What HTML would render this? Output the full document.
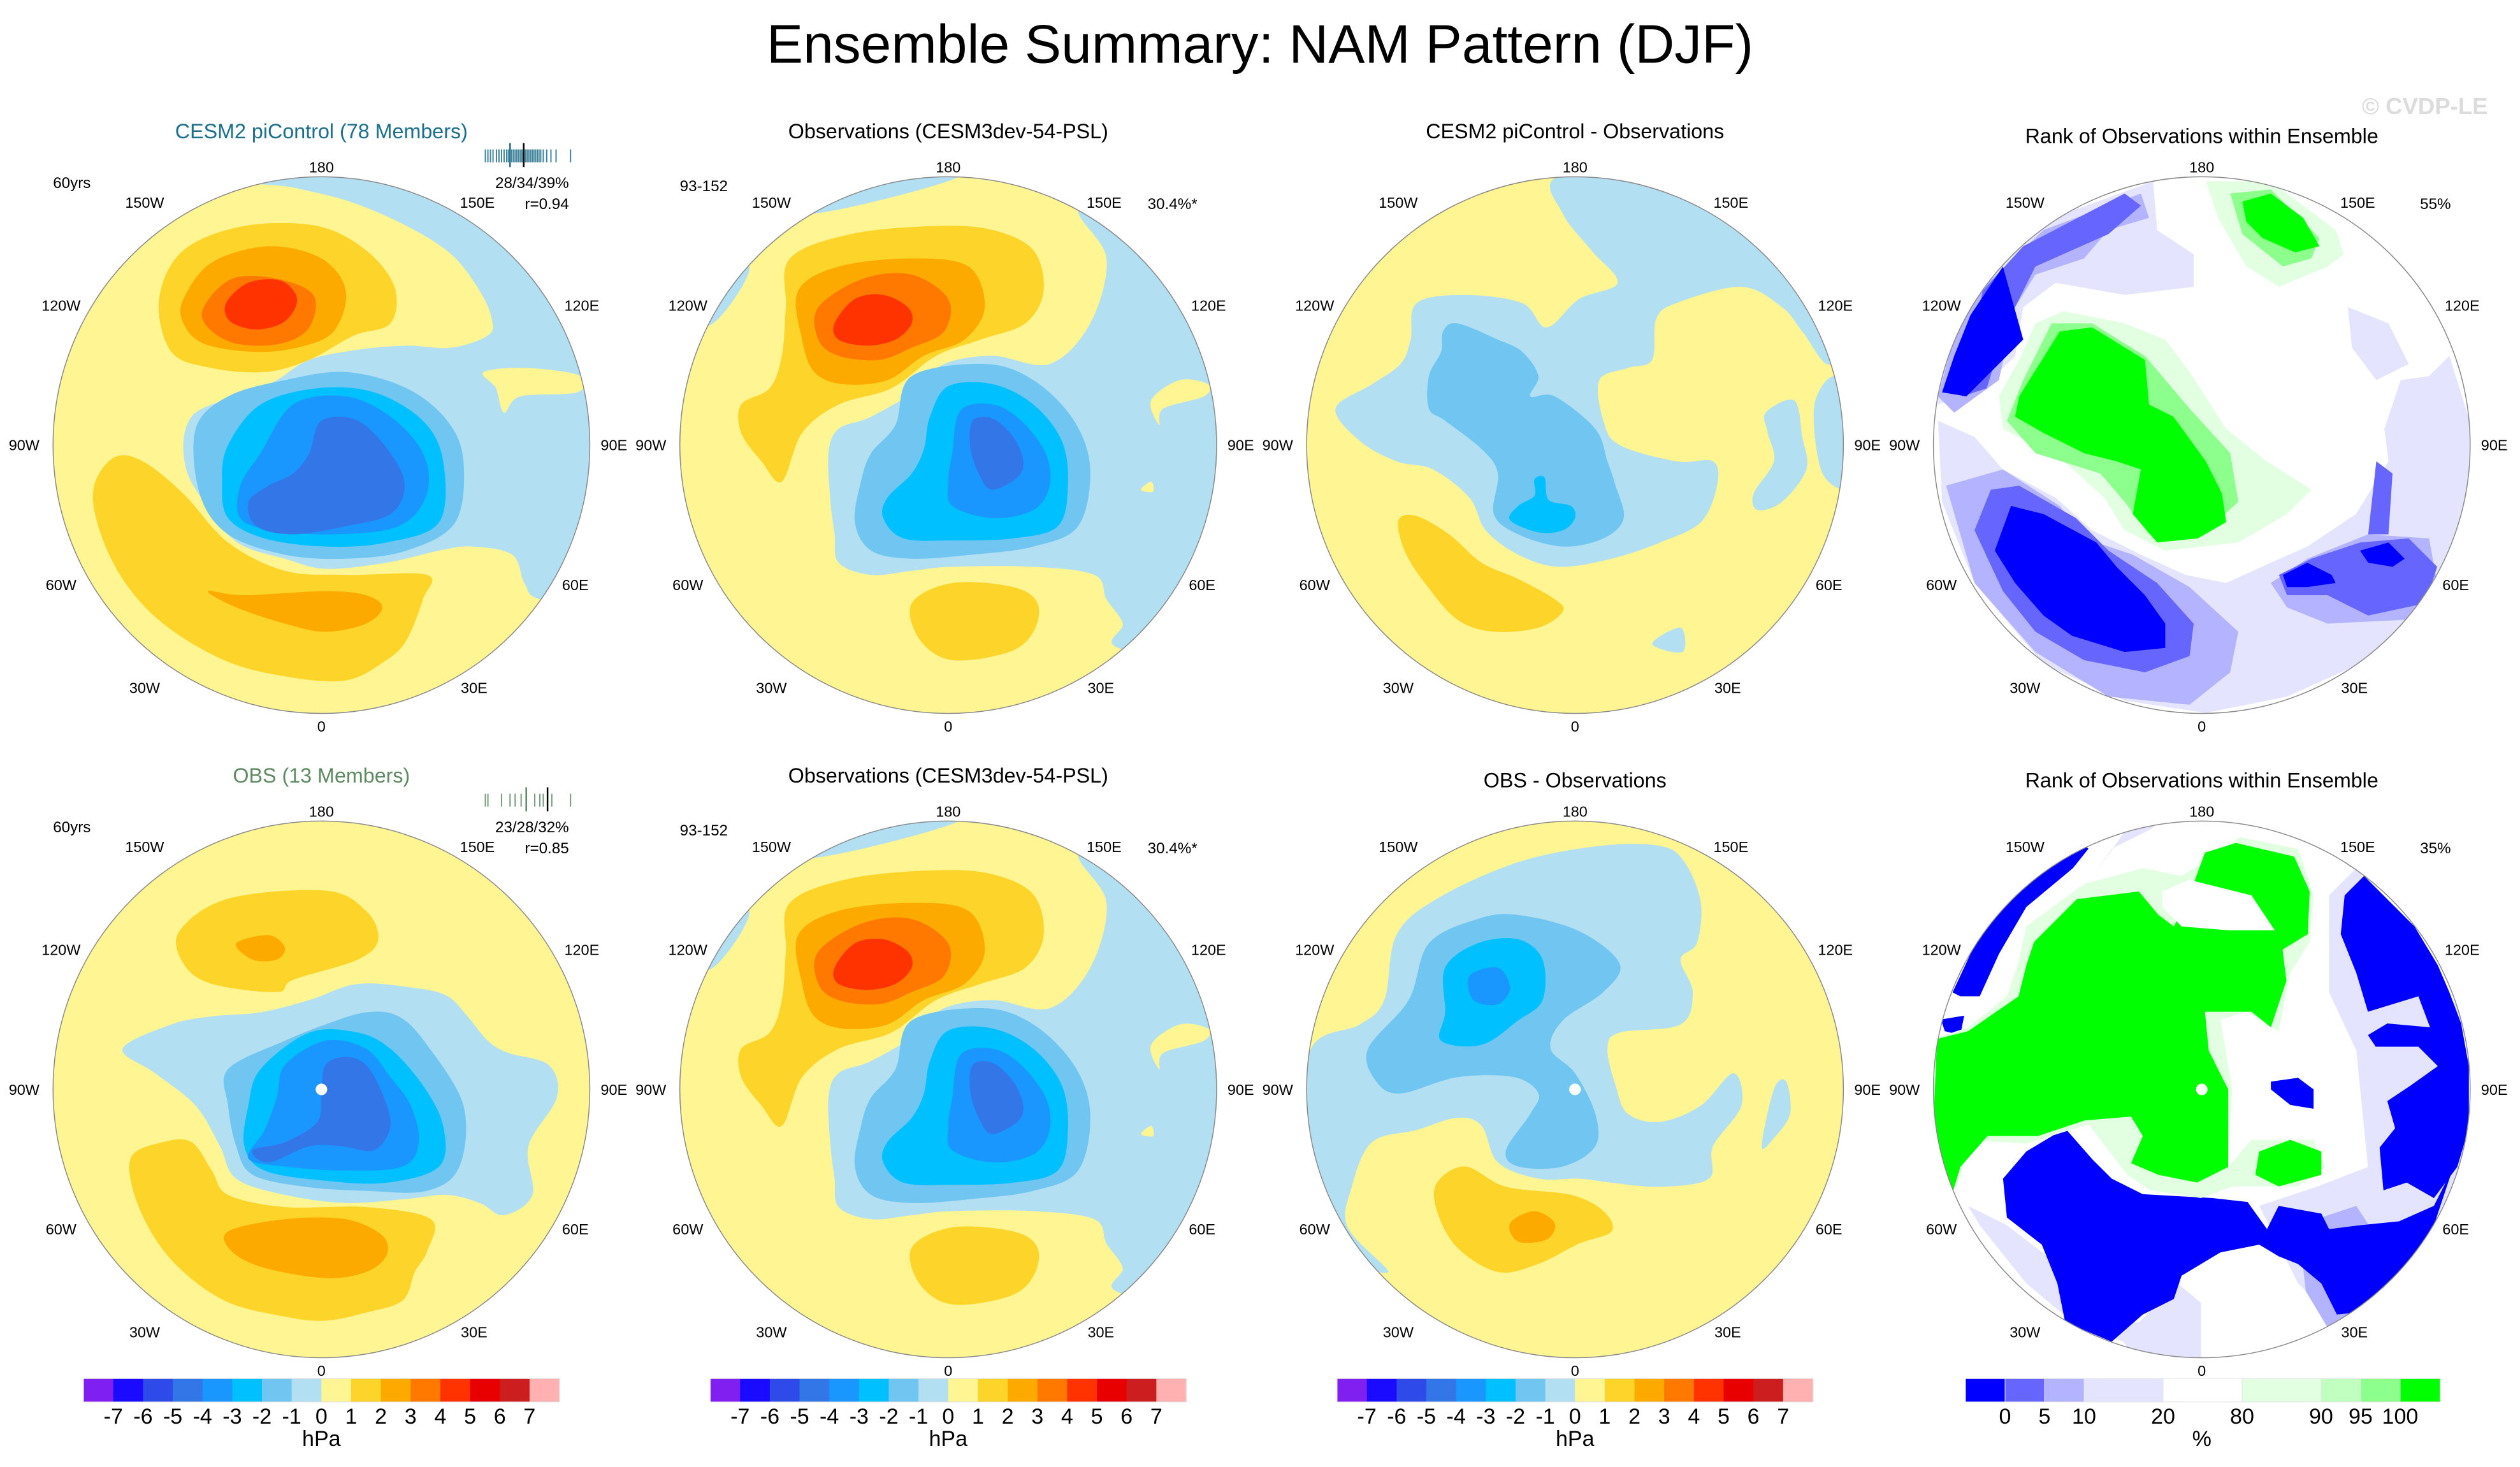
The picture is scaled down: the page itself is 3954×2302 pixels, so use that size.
<!DOCTYPE html>
<html><head><meta charset="utf-8"><style>
html,body{margin:0;padding:0;background:#fff;}
svg{display:block;font-family:"Liberation Sans",Arial,sans-serif;}
</style></head><body>
<svg id="fig" width="3954" height="2302" viewBox="0 0 1568 913" preserveAspectRatio="none" xmlns="http://www.w3.org/2000/svg">
<rect width="1568" height="913" fill="#fff"/>
<text x="784" y="39" font-size="34" text-anchor="middle" fill="#000">Ensemble Summary: NAM Pattern (DJF)</text>
<text x="1548" y="71" font-size="14.5" font-weight="bold" text-anchor="end" fill="#dcdcdc">© CVDP-LE</text>
<g id="panels"></g>
</svg>
<script>
// ---- colour scales ----
const hpaColors = ['#8020f0','#1a0bff','#2e4ae8','#3276e8','#1a96ff','#00c0ff','#70c6f0','#b3dff3','#fff592','#fdd42a','#fdaa00','#ff7800','#ff3300','#e80000','#cc1e1e','#ffb0b0'];
const hpaTicks = ['-7','-6','-5','-4','-3','-2','-1','0','1','2','3','4','5','6','7'];
const rankColors = ['#0000ff','#6666ff','#b3b3ff','#e4e4ff','#ffffff','#e2ffe2','#c0ffc0','#8cff8c','#00ff00'];
const rankWidths = [1,1,1,2,2,2,1,1,1];
const rankTicks = ['0','5','10','20','80','90','95','100'];
const lonLabels = ['180','150E','120E','90E','60E','30E','0','30W','60W','90W','120W','150W'];

// ---- contour regions (level index into colour scale, outline points in source-pixel units) ----
const p1Shapes = [
 [7,[[650,210],[1500,200],[1500,1250],[1330,1240],[1290,1200],[1260,1130],[1160,1110],[1080,1120],[950,1150],[800,1165],[700,1140],[600,1110],[540,1060],[500,1000],[460,930],[450,850],[470,790],[520,760],[600,740],[680,700],[760,650],[880,625],[1000,615],[1110,620],[1200,590],[1210,550],[1180,480],[1110,390],[1000,320],[860,260],[720,225]]],
 [8,[[1190,680],[1300,670],[1430,690],[1420,730],[1280,740],[1240,780],[1220,720]]],
 [6,[[480,820],[560,740],[700,700],[850,680],[1000,720],[1100,800],[1140,900],[1120,1050],[1000,1120],[850,1140],[700,1130],[560,1080],[490,980]]],
 [5,[[560,860],[640,760],[780,720],[920,730],[1040,800],[1090,900],[1080,1050],[950,1100],[800,1110],[650,1090],[560,1040],[545,950]]],
 [4,[[590,960],[640,880],[720,760],[850,740],[960,790],[1040,880],[1050,980],[980,1060],[820,1080],[670,1070],[590,1040]]],
 [3,[[610,1000],[660,960],[720,930],[760,880],[790,800],[880,800],[960,880],[995,960],[960,1030],[850,1060],[720,1080],[630,1060]]],
 [9,[[230,960],[280,890],[350,900],[450,980],[560,1100],[700,1170],[850,1180],[1050,1180],[1040,1240],[1000,1340],[950,1390],[850,1440],[700,1430],[550,1390],[400,1300],[300,1190],[240,1060]]],
 [10,[[510,1220],[600,1230],[800,1220],[900,1230],[940,1260],[900,1300],[800,1320],[700,1300],[580,1260]]],
 [9,[[390,500],[450,380],[600,320],[780,320],[900,380],[970,470],[960,560],[870,590],[760,650],[650,680],[520,670],[420,630]]],
 [10,[[450,500],[520,410],[660,370],[790,400],[850,480],[820,580],[730,620],[620,630],[500,610],[450,560]]],
 [11,[[500,520],[570,450],[680,450],[770,490],[760,570],[690,610],[580,610],[510,570]]],
 [12,[[555,510],[610,460],[690,455],[730,500],[700,555],[630,575],[565,555]]]
];
const p2Shapes = [
 [7,[[450,290],[820,195],[460,200]]],
 [7,[[200,565],[300,420],[150,430]]],
 [7,[[1110,280],[1180,400],[1140,560],[1040,660],[900,640],[780,660],[720,720],[600,790],[520,820],[495,880],[500,1000],[510,1080],[520,1150],[600,1180],[700,1170],[800,1160],[1000,1160],[1150,1180],[1180,1240],[1220,1300],[1210,1360],[1500,1400],[1500,200],[1200,230]]],
 [8,[[1290,750],[1360,700],[1430,710],[1420,740],[1320,770],[1310,810]]],
 [8,[[1265,970],[1290,950],[1295,975]]],
 [6,[[700,690],[880,660],[1000,700],[1100,800],[1140,920],[1110,1060],[1000,1110],[850,1130],[700,1140],[600,1120],[560,1050],[575,950],[600,880],[660,810]]],
 [5,[[790,715],[900,710],[1000,760],[1070,850],[1085,960],[1060,1060],[950,1090],[800,1095],[680,1090],[630,1040],[640,990],[700,930],[730,870],[745,790]]],
 [4,[[820,775],[900,760],[970,800],[1030,880],[1040,960],[1000,1020],[900,1040],[800,1010],[790,950],[800,880]]],
 [3,[[850,800],[900,795],[950,840],[975,900],[960,940],[900,970],[870,940],[845,870]]],
 [9,[[400,400],[550,340],[760,320],[900,330],[1000,380],[1025,480],[980,560],[870,600],[760,640],[650,720],[520,760],[430,830],[380,950],[330,900],[280,830],[280,760],[350,720],[380,640],[390,520]]],
 [10,[[420,480],[520,420],[700,400],[840,420],[880,520],[830,600],[730,640],[640,700],[530,710],[460,680],[430,600]]],
 [11,[[470,520],[580,450],[700,440],[790,500],[780,580],[700,620],[620,650],[520,640],[470,600]]],
 [12,[[510,560],[560,500],[630,490],[690,520],[700,560],[660,600],[590,615],[520,600]]],
 [9,[[700,1250],[800,1200],[950,1210],[1010,1250],[1000,1320],[940,1370],[800,1390],[720,1340]]]
];
const p3Shapes = [
 [7,[[745,200],[760,290],[830,380],[895,460],[800,500],[720,570],[660,510],[520,490],[400,510],[385,600],[360,660],[290,710],[200,770],[260,850],[350,900],[440,920],[530,990],[570,1070],[650,1130],[750,1160],[880,1140],[1000,1100],[1100,1050],[1140,960],[1130,900],[1040,900],[900,860],[860,800],[850,700],[920,670],[980,650],[990,550],[1040,510],[1200,470],[1300,520],[1350,580],[1420,660],[1460,500],[1300,250],[1000,190]]],
 [7,[[1260,780],[1330,750],[1350,840],[1360,920],[1300,1000],[1240,1020],[1230,980],[1280,900],[1265,830]]],
 [7,[[1380,760],[1440,700],[1470,950],[1400,930]]],
 [7,[[980,1350],[1050,1310],[1055,1370]]],
 [6,[[465,580],[500,560],[600,600],[660,630],[700,690],[680,740],[740,740],[840,820],[870,900],[890,960],[910,1040],[860,1090],[760,1110],[650,1080],[590,1030],[600,930],[560,870],[470,800],[430,770],[430,690],[460,630]]],
 [5,[[690,945],[715,940],[725,995],[780,1010],[790,1040],[760,1070],[700,1075],[630,1045],[650,1010],[690,985]]],
 [9,[[355,1045],[400,1035],[480,1080],[560,1150],[650,1190],[740,1240],[760,1270],[700,1310],[590,1320],[500,1290],[420,1200],[370,1120]]]
];
const p5Shapes = [
 [7,[[300,760],[420,700],[520,680],[640,670],[760,640],[880,600],[1020,610],[1100,630],[1150,680],[1200,740],[1250,770],[1350,800],[1370,880],[1300,1000],[1310,1120],[1240,1170],[1180,1140],[1100,1120],[1000,1130],[850,1140],[700,1120],[580,1080],[540,1000],[480,900],[380,820]]],
 [6,[[560,810],[700,740],[800,700],[900,670],[980,680],[1050,750],[1140,900],[1130,1050],[1050,1110],[900,1110],[750,1100],[620,1070],[580,1000],[560,900]]],
 [5,[[640,810],[760,720],[880,720],[960,760],[1040,850],[1090,950],[1080,1050],[950,1090],[800,1085],[650,1060],[600,1000],[610,900]]],
 [4,[[700,800],[800,740],[900,760],[960,830],[1010,900],[1030,990],[990,1050],[850,1060],[700,1050],[610,1030],[650,960],[680,880]]],
 [3,[[800,800],[850,780],[900,800],[940,870],[960,950],[920,1010],[840,1000],[760,1000],[660,1040],[620,1010],[700,990],[780,940],[790,870]]],
 [9,[[440,470],[560,390],[800,370],[900,420],[930,490],[880,540],[720,590],[680,620],[520,600],[450,550]]],
 [10,[[580,500],[660,480],[700,510],[680,540],[620,540]]],
 [9,[[320,1030],[400,990],[470,990],[520,1060],[560,1120],[700,1150],[900,1150],[1060,1180],[1050,1260],[1020,1310],[990,1380],[900,1410],[800,1430],[700,1420],[550,1380],[420,1280],[340,1150]]],
 [10,[[560,1210],[700,1180],[850,1180],[940,1220],[950,1270],[900,1310],[800,1325],[650,1300],[570,1260]]]
];
const p7Shapes = [
 [7,[[140,760],[260,700],[320,640],[350,480],[450,390],[650,300],[850,260],[1000,260],[1060,300],[1100,400],[1090,500],[1050,540],[1080,620],[1050,700],[900,720],[870,760],[890,850],[920,920],[1000,940],[1100,900],[1180,820],[1200,900],[1130,1000],[1120,1080],[1000,1100],[880,1090],[800,1080],[700,1080],[600,1040],[560,950],[500,930],[400,960],[290,990],[240,1100],[230,1200],[330,1310],[200,1250],[130,1000]]],
 [7,[[1280,860],[1310,840],[1320,920],[1280,980],[1250,1000]]],
 [6,[[280,760],[380,640],[430,500],[550,440],[650,430],[800,470],[900,550],[860,620],[760,690],[730,760],[790,820],[840,920],[840,1000],[760,1050],[650,1050],[620,1010],[680,920],[700,870],[640,830],[500,830],[360,870],[300,840]]],
 [5,[[470,560],[550,500],[650,490],[710,540],[710,640],[650,690],[560,750],[460,740],[470,670]]],
 [4,[[530,580],[600,560],[630,610],[600,650],[540,640]]],
 [9,[[450,1090],[520,1050],[620,1100],[780,1120],[860,1160],[880,1210],[800,1240],[700,1290],[600,1310],[500,1250],[450,1160]]],
 [10,[[630,1190],[690,1160],[740,1190],[720,1230],[650,1235]]]
];
const p4Shapes = [
 [3,[[450,290],[670,210],[680,330],[770,390],[770,470],[600,490],[430,460],[350,520],[330,640],[250,720],[140,760],[140,500],[250,350]]],
 [3,[[140,800],[230,840],[300,920],[430,990],[520,1070],[640,1130],[750,1180],[850,1200],[960,1150],[1050,1110],[1170,1030],[1250,900],[1240,820],[1280,700],[1350,690],[1400,640],[1450,800],[1450,1100],[1350,1300],[1200,1390],[1000,1480],[800,1520],[600,1490],[400,1400],[230,1200],[150,1000]]],
 [3,[[1150,520],[1250,560],[1300,660],[1220,700],[1160,620]]],
 [2,[[400,330],[640,240],[660,300],[560,330],[500,400],[380,440],[330,520],[290,700],[180,780],[140,740],[200,520]]],
 [2,[[160,960],[300,920],[440,1010],[500,1090],[620,1130],[760,1210],[880,1320],[860,1420],[760,1500],[560,1480],[380,1370],[230,1200]]],
 [2,[[960,1200],[1050,1140],[1200,1080],[1350,1090],[1370,1200],[1300,1290],[1100,1300],[1000,1260]]],
 [1,[[350,370],[600,240],[640,270],[560,340],[380,420],[310,560],[260,720],[200,740],[250,480]]],
 [1,[[230,1070],[270,970],[340,960],[480,1040],[560,1120],[680,1200],[770,1300],[760,1380],[650,1420],[500,1390],[380,1320],[300,1220]]],
 [1,[[980,1180],[1060,1140],[1180,1100],[1300,1090],[1370,1160],[1340,1250],[1200,1280],[1100,1230],[1000,1230]]],
 [1,[[1220,900],[1260,930],[1250,1080],[1200,1080]]],
 [0,[[150,730],[180,640],[220,540],[300,420],[350,600],[250,700],[210,740]]],
 [0,[[280,1120],[320,1010],[400,1030],[530,1100],[580,1160],[650,1230],[700,1300],[700,1360],[600,1370],[470,1330],[400,1280],[330,1200]]],
 [0,[[990,1180],[1050,1150],[1110,1180],[1120,1200],[1050,1210],[1000,1210]]],
 [0,[[1180,1120],[1250,1100],[1290,1140],[1260,1160],[1200,1150]]],
 [5,[[380,560],[450,530],[600,560],[700,600],[760,680],[850,820],[950,900],[1060,970],[1000,1030],[880,1100],[700,1120],[600,1070],[550,990],[450,900],[300,820],[290,740],[340,650]]],
 [5,[[800,210],[960,210],[1120,330],[1140,390],[1100,420],[980,470],[900,420],[830,300]]],
 [7,[[420,560],[520,560],[650,640],[760,770],[860,880],[880,1000],[780,1090],[660,1080],[600,1000],[540,930],[380,880],[310,800],[350,700]]],
 [7,[[860,240],[960,230],[1080,350],[1060,400],[990,420],[890,340]]],
 [8,[[440,580],[520,570],[650,650],[660,760],[720,790],[800,900],[840,980],[850,1050],[780,1090],[680,1100],[620,1030],[640,920],[580,900],[500,880],[400,830],[330,790],[340,740],[390,660]]],
 [8,[[890,260],[960,240],[1040,300],[1080,370],[1020,385],[940,350],[900,310]]]
];
const p8Shapes = [
 [3,[[600,70],[690,70],[620,130],[520,180],[480,240]]],
 [3,[[150,1100],[250,1150],[380,1250],[400,1400],[550,1450],[600,1530],[750,1540],[750,1350],[690,1300],[590,1400],[420,1400],[300,1300],[180,1150]]],
 [3,[[1080,300],[1150,230],[1420,600],[1440,1000],[1300,1350],[1100,1400],[1000,1300],[900,1100],[1050,1050],[1180,1000],[1150,700],[1080,550]]],
 [2,[[1000,1150],[1150,1100],[1280,1300],[1080,1420],[1020,1320]]],
 [0,[[110,550],[180,400],[300,250],[430,150],[460,180],[420,230],[300,330],[230,450],[180,560],[130,560]]],
 [0,[[80,620],[140,610],[130,660],[90,650]]],
 [0,[[240,1030],[300,960],[400,900],[470,980],[520,1030],[600,1070],[780,1080],[870,1090],[920,1160],[950,1100],[1060,1120],[1080,1160],[1160,1150],[1260,1140],[1350,1100],[1400,1000],[1300,1300],[1200,1370],[1100,1380],[1060,1300],[1000,1250],[950,1230],[900,1200],[800,1220],[700,1280],[680,1340],[600,1380],[520,1450],[400,1400],[380,1300],[340,1200],[250,1130]]],
 [0,[[1120,300],[1170,250],[1300,380],[1360,480],[1390,550],[1420,630],[1440,740],[1440,900],[1410,1000],[1350,1080],[1280,1040],[1220,1060],[1210,950],[1250,900],[1230,830],[1290,790],[1360,740],[1310,690],[1200,690],[1180,660],[1230,630],[1340,640],[1310,560],[1180,600],[1150,500],[1110,400]]],
 [0,[[930,780],[1000,770],[1040,800],[1040,850],[980,840],[930,800]]],
 [5,[[300,380],[450,270],[600,230],[700,250],[780,200],[850,150],[1000,180],[1040,300],[1030,420],[980,500],[950,650],[870,600],[800,620],[830,800],[820,1000],[880,930],[1040,930],[1070,1000],[1000,1050],[830,1050],[750,1080],[620,1060],[560,1020],[460,890],[300,940],[160,930],[120,1050],[60,900],[60,670],[150,640],[250,560],[280,470]]],
 [8,[[320,420],[430,310],[590,290],[640,350],[680,380],[720,300],[760,190],[840,165],[990,200],[1030,290],[1025,400],[960,440],[970,520],[930,640],[880,600],[810,600],[760,600],[770,700],[820,800],[820,1000],[740,1040],[640,1020],[570,990],[600,920],[570,870],[450,880],[330,920],[200,920],[130,1000],[100,1100],[60,900],[70,670],[150,650],[280,560],[300,480]]],
 [4,[[650,290],[720,260],[880,300],[940,390],[820,390],[700,380],[650,330]]],
 [8,[[900,960],[980,930],[1060,960],[1060,1020],[950,1050],[890,1020]]]
];

// ---- ensemble barcodes (member positions, 0..1) ----
const bar1Members = [0.0,0.03,0.06,0.09,0.13,0.16,0.19,0.22,0.25,0.27,0.29,0.31,0.33,0.35,0.37,0.39,0.41,0.43,0.45,0.47,0.49,0.51,0.53,0.55,0.57,0.59,0.61,0.63,0.65,0.68,0.72,0.77,0.83,1.0];
const bar1Marks = [0.29,0.45];
const bar5Members = [0.0,0.03,0.19,0.29,0.35,0.42,0.48,0.58,0.64,0.68,0.78,1.0];
const bar5Marks = [0.48,0.73];

const panels = [
 {id:'p1',cx:200,cy:277,src:[790,860,3.96],shapes:p1Shapes,cols:hpaColors,bg:8,title:'CESM2 piControl (78 Members)',tc:'#1a6f8f',ty:86,left:'60yrs',ly:117,bar:[bar1Members,bar1Marks,'#1f6f8b'],stats:['28/34/39%','r=0.94']},
 {id:'p2',cx:590,cy:277,src:[790,860,3.96],shapes:p2Shapes,cols:hpaColors,bg:8,title:'Observations (CESM3dev-54-PSL)',tc:'#000',ty:86,left:'93-152',ly:119,right:'30.4%*'},
 {id:'p3',cx:980,cy:277,src:[790,860,3.96],shapes:p3Shapes,cols:hpaColors,bg:8,title:'CESM2 piControl - Observations',tc:'#000',ty:86},
 {id:'p4',cx:1370,cy:277,src:[790,860,3.96],shapes:p4Shapes,cols:rankColors,bg:4,title:'Rank of Observations within Ensemble',tc:'#000',ty:89,right:'55%',rank:true},
 {id:'p5',cx:200,cy:678,src:[790,860,3.96],shapes:p5Shapes,cols:hpaColors,bg:8,title:'OBS (13 Members)',tc:'#5e8a63',ty:487,left:'60yrs',ly:518,bar:[bar5Members,bar5Marks,'#5e8a63'],stats:['23/28/32%','r=0.85'],dot:true},
 {id:'p6',cx:590,cy:678,src:[790,860,3.96],shapes:p2Shapes,cols:hpaColors,bg:8,title:'Observations (CESM3dev-54-PSL)',tc:'#000',ty:487,left:'93-152',ly:520,right:'30.4%*'},
 {id:'p7',cx:980,cy:678,src:[790,860,3.96],shapes:p7Shapes,cols:hpaColors,bg:8,title:'OBS - Observations',tc:'#000',ty:490,dot:true},
 {id:'p8',cx:1370,cy:678,src:[752,800,4.14],shapes:p8Shapes,cols:rankColors,bg:4,title:'Rank of Observations within Ensemble',tc:'#000',ty:490,right:'35%',rank:true,dot:true}
];

const NS='http://www.w3.org/2000/svg';
const R=167;
function mk(tag,attrs,parent){const e=document.createElementNS(NS,tag);for(const k in attrs)e.setAttribute(k,attrs[k]);if(parent)parent.appendChild(e);return e;}
function smoothPath(pts){
 const n=pts.length;let d='M'+pts[0][0]+','+pts[0][1];
 for(let i=0;i<n;i++){const p0=pts[(i-1+n)%n],p1=pts[i],p2=pts[(i+1)%n],p3=pts[(i+2)%n];
  const c1=[p1[0]+(p2[0]-p0[0])/6,p1[1]+(p2[1]-p0[1])/6],c2=[p2[0]-(p3[0]-p1[0])/6,p2[1]-(p3[1]-p1[1])/6];
  d+='C'+c1[0].toFixed(1)+','+c1[1].toFixed(1)+' '+c2[0].toFixed(1)+','+c2[1].toFixed(1)+' '+p2[0]+','+p2[1];}
 return d+'Z';}
function stepPath(pts){return 'M'+pts.map(p=>p[0]+','+p[1]).join('L')+'Z';}
function txt(parent,x,y,s,size,anchor,fill,name){const t=mk('text',{x:x,y:y,'font-size':size,'text-anchor':anchor||'middle',fill:fill||'#000'},parent);t.textContent=s;
 
 
 return t;}

const root=document.getElementById('panels');
const labelOff=[[0,-173],[97,-151],[162,-87],[182,0],[158,87],[95,151],[0,175],[-110,151],[-162,87],[-185,0],[-162,-87],[-110,-151]];
panels.forEach(p=>{
 const g=mk('g',{},root);
 
 
 const clip=mk('clipPath',{id:'clip-'+p.id},g);mk('circle',{cx:p.cx,cy:p.cy,r:R},clip);
 const map=mk('g',{'clip-path':'url(#clip-'+p.id+')'},g);
 
 
 mk('rect',{x:p.cx-R,y:p.cy-R,width:2*R,height:2*R,fill:p.cols[p.bg]},map);
 const s=1/p.src[2];
 const inner=mk('g',{transform:'translate('+p.cx+','+p.cy+') scale('+s+') translate('+(-p.src[0])+','+(-p.src[1])+')'},map);
 p.shapes.forEach((sh,i)=>{
  const path=mk('path',{d:p.rank?stepPath(sh[1]):smoothPath(sh[1]),fill:p.cols[sh[0]]},inner);
  
  
 });
 const rim=mk('circle',{cx:p.cx,cy:p.cy,r:R,fill:'none',stroke:'#8a8a8a','stroke-width':0.6},g);
 
 
 if(p.dot){const d=mk('circle',{cx:p.cx,cy:p.cy,r:3.6,fill:'#fff'},g);
  
  }
 lonLabels.forEach((l,i)=>txt(g,p.cx+labelOff[i][0],p.cy+labelOff[i][1]+3.3,l,9.3,'middle','#000','longitude-label'));
 txt(g,p.cx,p.ty,p.title,12.8,'middle',p.tc,'panel-title');
 if(p.left)txt(g,p.cx-167,p.ly,p.left,9.6,'start','#000','period-label');
 if(p.right)txt(g,p.cx+155,p.cy-147,p.right,9.6,'end','#000','variance-label');
 if(p.stats){txt(g,p.cx+154,p.cy-160,p.stats[0],9.6,'end','#000','variance-stats');txt(g,p.cx+154,p.cy-147,p.stats[1],9.6,'end','#000','pattern-correlation');}
 if(p.bar){const bg=mk('g',{},g);
  
  
  const x0=p.cx+102,w=53,y0=p.cy-187;
  p.bar[0].forEach(v=>{const l=mk('line',{x1:x0+v*w,x2:x0+v*w,y1:y0+3,y2:y0+11,stroke:p.bar[2],'stroke-width':0.8,opacity:0.85},bg);
   
   });
  p.bar[1].forEach((v,i)=>{const l=mk('line',{x1:x0+v*w,x2:x0+v*w,y1:y0-1,y2:y0+14,stroke:i?'#000':p.bar[2],'stroke-width':1},bg);
   
   });
 }
});

// ---- colorbars ----
function hpaBar(cx){
 const g=mk('g',{},root);
 
 
 const x0=cx-148,w=296/hpaColors.length,y=858,h=14.5;
 hpaColors.forEach((c,i)=>{const r=mk('rect',{x:x0+i*w,y:y,width:w+0.3,height:h,fill:c},g);
  
  });
 mk('rect',{x:x0,y:y,width:296,height:h,fill:'none',stroke:'#ddd','stroke-width':0.4},g);
 hpaTicks.forEach((t,i)=>txt(g,x0+(i+1)*w,886,t,13.5,'middle','#000','colorbar-tick-label'));
 txt(g,cx,900,'hPa',13.5,'middle','#000','colorbar-units');
}
[200,590,980].forEach(hpaBar);
(function(){
 const g=mk('g',{},root);
 
 
 const total=rankWidths.reduce((a,b)=>a+b,0),x0=1223,W=295,u=W/total,y=858,h=14.5;
 let acc=0;const bounds=[];
 rankColors.forEach((c,i)=>{const r=mk('rect',{x:x0+acc*u,y:y,width:rankWidths[i]*u+0.3,height:h,fill:c,stroke:'#e4e4e4','stroke-width':0.4},g);
  
  
  acc+=rankWidths[i];bounds.push(acc);});
 rankTicks.forEach((t,i)=>txt(g,x0+bounds[i]*u,886,t,13.5,'middle','#000','colorbar-tick-label'));
 txt(g,1370,900,'%',13.5,'middle','#000','colorbar-units');
})();
</script>
</body></html>
